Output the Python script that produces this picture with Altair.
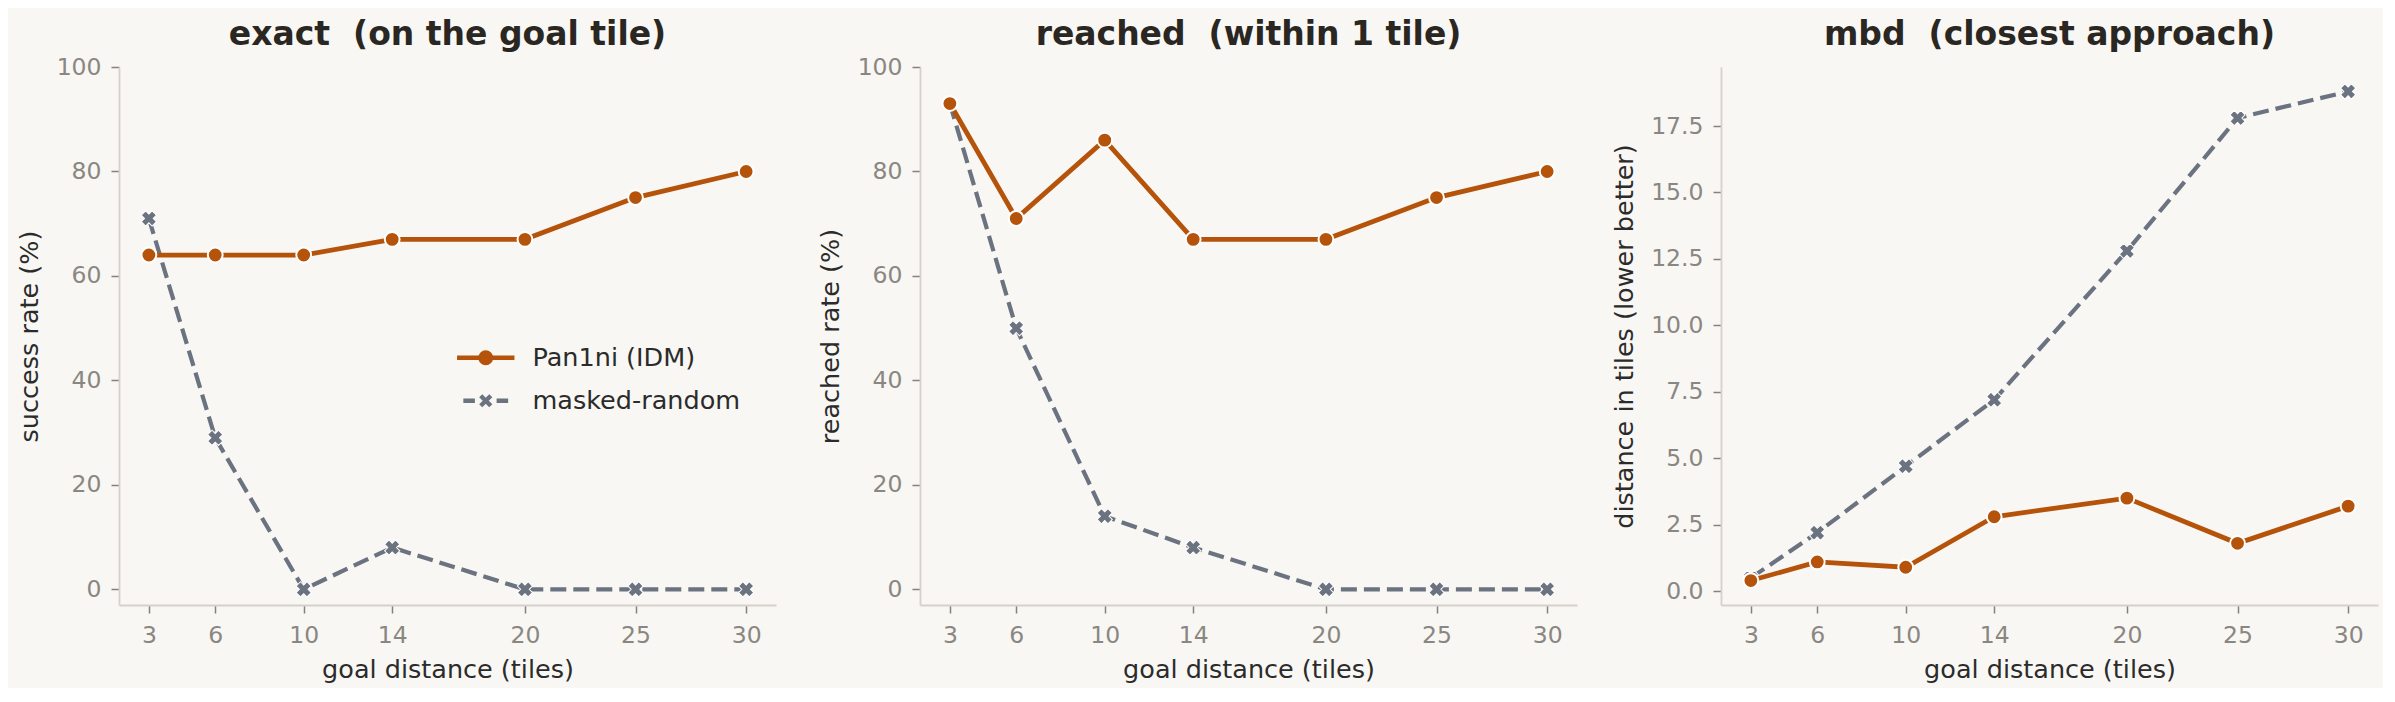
import altair as alt
import pandas as pd

# ---------------- data ----------------
distances = [3, 6, 10, 14, 20, 25, 30]
series_names = ["Pan1ni (IDM)", "masked-random"]

exact_pan1ni = [64, 64, 64, 67, 67, 75, 80]
exact_masked = [71, 29, 0, 8, 0, 0, 0]

reached_pan1ni = [93, 71, 86, 67, 67, 75, 80]
reached_masked = [93, 50, 14, 8, 0, 0, 0]

mbd_pan1ni = [0.4, 1.1, 0.9, 2.8, 3.5, 1.8, 3.2]
mbd_masked = [0.5, 2.2, 4.7, 7.2, 12.8, 17.8, 18.8]

panel_titles = [
    "exact\u00a0 (on the goal tile)",
    "reached\u00a0 (within 1 tile)",
    "mbd\u00a0 (closest approach)",
]
y_titles = ["success rate (%)", "reached rate (%)", "distance in tiles (lower better)"]
pct_ticks = [0, 20, 40, 60, 80, 100]
mbd_ticks = [0, 2.5, 5, 7.5, 10, 12.5, 15, 17.5]

# ---------------- style ----------------
ORANGE = "#b5530b"
GRAY = "#6b7280"
BG = "#f8f7f3"
FONT = "DejaVu Sans"
W, H = 657, 538

PATH_LEG_O = ("M-4.1,0L4.1,0"
              "M-0.32,0A0.32,0.32 0 1,0 0.32,0A0.32,0.32 0 1,0 -0.32,0"
              "M-0.75,0A0.75,0.75 0 1,0 0.75,0A0.75,0.75 0 1,0 -0.75,0")
PATH_LEG_X = ("M-3.2,0L-1.55,0M1.55,0L3.2,0"
              "M-0.72,-0.72L0.72,0.72M-0.72,0.72L0.72,-0.72")


def panel(pan, masked, title, ytitle, ydomain, yticks, yfmt, title_x, title_offset, legend=False):
    df = pd.DataFrame({
        "d": distances + distances,
        "v": pan + masked,
        "series": [series_names[0]] * len(distances) + [series_names[1]] * len(distances),
    })
    x = alt.X("d:Q",
              scale=alt.Scale(domain=[1.65, 31.35], nice=False, zero=False),
              axis=alt.Axis(values=distances, title="goal distance (tiles)",
                            titleY=72, titleBaseline="alphabetic"))
    y = alt.Y("v:Q",
              scale=alt.Scale(domain=ydomain, nice=False, zero=False),
              axis=alt.Axis(values=yticks, format=yfmt, title=ytitle,
                            titleX=title_x, titleBaseline="alphabetic"))
    base = alt.Chart(df)
    gray = base.transform_filter(alt.datum.series == series_names[1])
    orng = base.transform_filter(alt.datum.series == series_names[0])
    layers = [
        gray.mark_line(color=GRAY, strokeWidth=4.2, strokeDash=[16, 7]).encode(x=x, y=y),
        gray.mark_point(shape="cross", angle=45, filled=True, fill=GRAY, stroke="white",
                        strokeWidth=1, size=235, opacity=1).encode(x=x, y=y),
        orng.mark_line(color=ORANGE, strokeWidth=4.8).encode(x=x, y=y),
        orng.mark_point(shape="circle", filled=True, fill=ORANGE, stroke="white",
                        strokeWidth=2, size=220, opacity=1).encode(x=x, y=y),
    ]
    if legend:
        leg_df = pd.DataFrame({"series": series_names})
        leg_props = dict(orient="none", legendX=354, legendY=278, title=None,
                         labelFont=FONT, labelFontSize=25.5, labelColor="#2b2b2b",
                         labelLimit=500,
                         symbolSize=196, symbolStrokeWidth=4.4, labelOffset=34,
                         rowPadding=14, padding=0, symbolOpacity=1)
        leg = alt.Chart(leg_df).transform_filter("false").mark_point(
            filled=False, size=196, strokeWidth=4.4).encode(
            color=alt.Color("series:N",
                            scale=alt.Scale(domain=series_names, range=[ORANGE, GRAY]),
                            legend=alt.Legend(**leg_props)),
            shape=alt.Shape("series:N",
                            scale=alt.Scale(domain=series_names, range=[PATH_LEG_O, PATH_LEG_X]),
                            legend=alt.Legend(**leg_props)),
        )
        layers.append(leg)
    return alt.layer(*layers).properties(
        width=W, height=H,
        title=alt.TitleParams(title, offset=title_offset),
    )


p1 = panel(exact_pan1ni, exact_masked, panel_titles[0], y_titles[0], [-3, 100], pct_ticks, "d", -81.5, 3, legend=True)
p2 = panel(reached_pan1ni, reached_masked, panel_titles[1], y_titles[1], [-3, 100], pct_ticks, "d", -82, 3)
p3 = panel(mbd_pan1ni, mbd_masked, panel_titles[2], y_titles[2], [-0.52, 19.72], mbd_ticks, ".1f", -88.3, 15)

chart = alt.hconcat(p1, p2, p3, spacing=144, bounds="flush").properties(
    background=BG,
    padding={"left": 9, "top": 11, "right": 5, "bottom": 5},
).configure_view(stroke=None).configure_axis(
    grid=False,
    labelFont=FONT, labelFontSize=23.5, labelColor="#8a8681", labelPadding=10,
    titleFont=FONT, titleFontSize=25.5, titleFontWeight="normal", titleColor="#2b2b2b",
    tickColor="#85817c", tickSize=8, tickWidth=1.5,
    domainColor="#d6d1cb", domainWidth=1.8,
).configure_title(
    font=FONT, fontSize=33, fontWeight="bold", color="#2a2723",
    anchor="middle", baseline="alphabetic",
)

chart.save("out.html", embed_options={"renderer": "svg", "actions": False})
